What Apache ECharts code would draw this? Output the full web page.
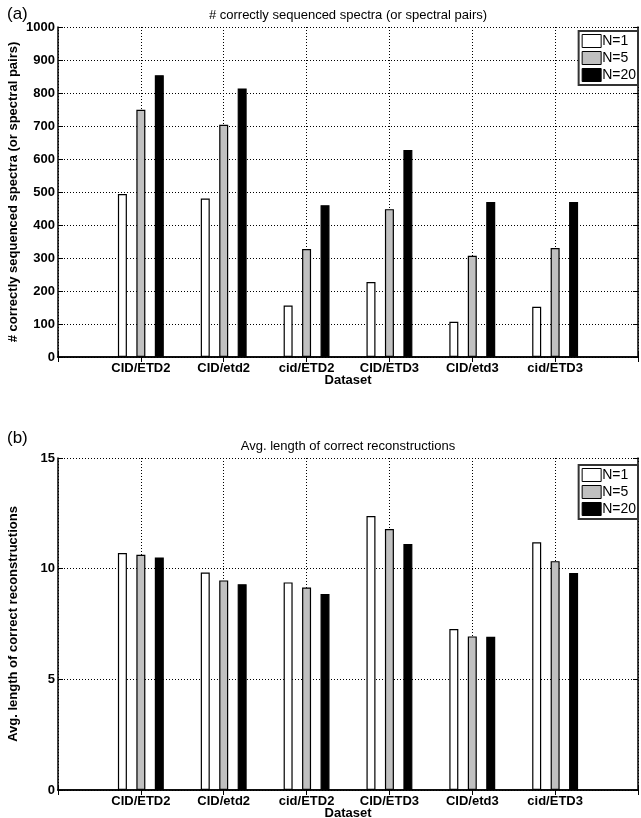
<!DOCTYPE html>
<html>
<head>
<meta charset="utf-8">
<script src="https://cdn.jsdelivr.net/npm/echarts@6/dist/echarts.min.js"></script>
<style>
html,body{margin:0;padding:0;background:#fff;}
#c{width:641px;height:818px;}
</style>
</head>
<body>
<div id="c"></div>
<script>
const categories = ['CID/ETD2', 'CID/etd2', 'cid/ETD2', 'CID/ETD3', 'CID/etd3', 'cid/ETD3'];
const seriesNames = ['N=1', 'N=5', 'N=20'];
// (a) # correctly sequenced spectra
const countN1 = [494, 480, 156, 227, 107, 152];
const countN5 = [749, 704, 327, 448, 307, 330];
const countN20 = [854, 814, 460, 627, 470, 470];
// (b) Avg. length of correct reconstructions
const lenN1 = [10.71, 9.83, 9.38, 12.38, 7.27, 11.19];
const lenN5 = [10.63, 9.47, 9.15, 11.79, 6.94, 10.34];
const lenN20 = [10.51, 9.30, 8.85, 11.11, 6.92, 9.80];
const countTicks = [0, 1000, 100];
const lenTicks = [0, 15, 5];

const FONT = 'Liberation Sans';
const pad = a => [null].concat(a, [null]);
const axisCats = [''].concat(categories, ['']);
const fills = ['#ffffff', '#c0c0c0', '#000000'];

const chart = echarts.init(document.getElementById('c'), null, {renderer: 'canvas'});

function xAxes(gi) {
  return [{
    type: 'category', gridIndex: gi, data: axisCats, boundaryGap: false,
    position: 'bottom',
    axisLine: {show: true, lineStyle: {color: '#000', width: 1.5}},
    axisTick: {show: true, inside: true, length: 5, alignWithLabel: true, lineStyle: {color: '#000'}},
    axisLabel: {show: true, interval: 0, color: '#000', fontFamily: FONT, fontSize: 13, fontWeight: 'bold', margin: 5},
    splitLine: {show: true, interval: 0, lineStyle: {color: '#000', type: [1, 2], width: 1}},
    name: 'Dataset', nameLocation: 'middle', nameGap: 17, nameMoveOverlap: false,
    nameTextStyle: {color: '#000', fontFamily: FONT, fontSize: 13, fontWeight: 'bold'}
  }, {
    type: 'category', gridIndex: gi, data: axisCats, boundaryGap: false,
    position: 'top',
    axisLine: {show: true, lineStyle: {color: '#000', width: 1.5}},
    axisTick: {show: true, inside: true, length: 5, lineStyle: {color: '#000'}},
    axisLabel: {show: false}, splitLine: {show: false}
  }];
}
function yAxes(gi, ticks, name) {
  return [{
    type: 'value', gridIndex: gi, min: ticks[0], max: ticks[1], interval: ticks[2],
    position: 'left',
    axisLine: {show: true, lineStyle: {color: '#000', width: 1.5}},
    axisTick: {show: true, inside: true, length: 5, lineStyle: {color: '#000'}},
    axisLabel: {color: '#000', fontFamily: FONT, fontSize: 13, fontWeight: 'bold', margin: 3,
      formatter: v => String(v)},
    splitLine: {show: true, lineStyle: {color: '#000', type: [1, 2], width: 1}},
    name: name, nameLocation: 'middle', nameGap: 38, nameRotate: 90, nameMoveOverlap: false,
    nameTextStyle: {color: '#000', fontFamily: FONT, fontSize: 13, fontWeight: 'bold'}
  }, {
    type: 'value', gridIndex: gi, min: ticks[0], max: ticks[1], interval: ticks[2],
    position: 'right',
    axisLine: {show: true, lineStyle: {color: '#000', width: 1.5}},
    axisTick: {show: true, inside: true, length: 5, lineStyle: {color: '#000'}},
    axisLabel: {show: false}, splitLine: {show: false}
  }];
}
function barSeries(gi, arrs) {
  return arrs.map((a, i) => ({
    type: 'bar', name: seriesNames[i], xAxisIndex: gi * 2, yAxisIndex: gi * 2,
    data: pad(a), barWidth: 9, barGap: '105%',
    itemStyle: {color: fills[i], borderColor: '#000', borderWidth: 1.2},
    emphasis: {disabled: true}
  }));
}

const legendCommon = {
  orient: 'vertical', right: 3, itemWidth: 19, itemHeight: 13, itemGap: 3,
  padding: [3, 2, 3, 3], icon: 'rect',
  backgroundColor: '#fff', borderColor: '#333', borderWidth: 2,
  textStyle: {color: '#000', fontFamily: FONT, fontSize: 14, padding: [0, 0, 0, -4]},
  data: seriesNames.map((n, i) => ({name: n, icon: 'rect', itemStyle: {color: fills[i], borderColor: '#000', borderWidth: 1}})),
  selectedMode: false
};

const option = {
  animation: false,
  backgroundColor: '#fff',
  title: [
    {text: '(a)', left: 2, top: 1, textStyle: {fontFamily: FONT, fontSize: 17, fontWeight: 'normal', color: '#000'}},
    {text: '# correctly sequenced spectra (or spectral pairs)', left: 343, top: 4, textAlign: 'center',
      textStyle: {fontFamily: FONT, fontSize: 13, fontWeight: 'normal', color: '#000'}},
    {text: '(b)', left: 2, top: 425, textStyle: {fontFamily: FONT, fontSize: 17, fontWeight: 'normal', color: '#000'}},
    {text: 'Avg. length of correct reconstructions', left: 343, top: 435, textAlign: 'center',
      textStyle: {fontFamily: FONT, fontSize: 13, fontWeight: 'normal', color: '#000'}}
  ],
  legend: [
    Object.assign({}, legendCommon, {top: 31}),
    Object.assign({}, legendCommon, {top: 465})
  ],
  grid: [
    {left: 58, top: 27, width: 580, height: 330, outerBoundsMode: 'none', containLabel: false},
    {left: 58, top: 458, width: 580, height: 332, outerBoundsMode: 'none', containLabel: false}
  ],
  xAxis: xAxes(0).concat(xAxes(1)),
  yAxis: yAxes(0, countTicks, '# correctly sequenced spectra (or spectral pairs)')
    .concat(yAxes(1, lenTicks, 'Avg. length of correct reconstructions')),
  series: barSeries(0, [countN1, countN5, countN20]).concat(barSeries(1, [lenN1, lenN5, lenN20]))
};
chart.setOption(option);
</script>
</body>
</html>
